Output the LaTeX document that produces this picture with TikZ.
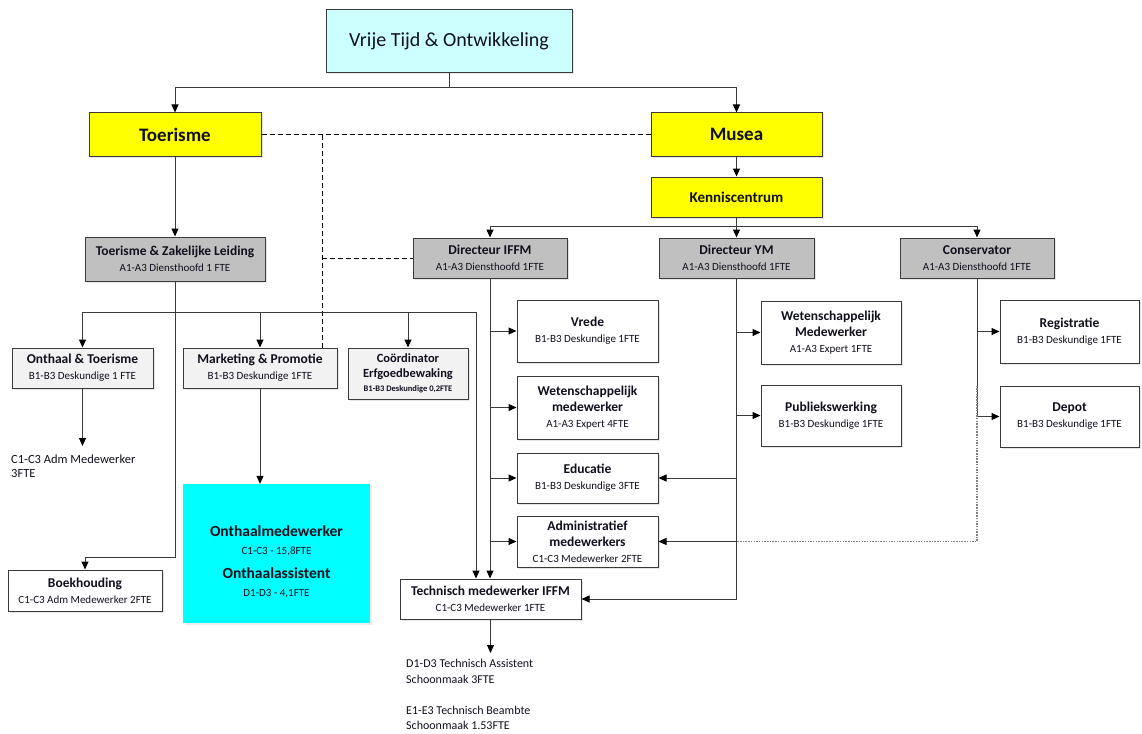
\documentclass[tikz,border=0pt]{standalone}
\usepackage{fontspec}
\setmainfont{Carlito}
\usetikzlibrary{arrows.meta,shadows}
\definecolor{topc}{HTML}{CCFFFF}
\definecolor{yel}{HTML}{FFFF00}
\definecolor{grb}{HTML}{C0C0C0}
\definecolor{lgb}{HTML}{F2F2F2}
\definecolor{cyb}{HTML}{00FFFF}
\definecolor{ln}{HTML}{3A3A3A}
\definecolor{txt}{HTML}{10101E}
\tikzset{
 bx/.style={draw=ln, line width=1pt, inner sep=0pt, align=center, text=txt, fill=white,
   font=\fontsize{11}{16}\selectfont,
   drop shadow={shadow xshift=1.5pt, shadow yshift=-1.5pt, opacity=0.2}},
 conn/.style={draw=ln, line width=1pt, -{Triangle[length=8pt,width=7pt,color=black]}},
 plainln/.style={draw=ln, line width=1pt},
 dsh/.style={draw=black, line width=1pt, dash pattern=on 5pt off 3pt},
 dotln/.style={draw=gray, line width=1.4pt, dash pattern=on 1.5pt off 1.2pt},
 freetxt/.style={anchor=north west, inner sep=0pt, align=left, text=txt},
}
\newcommand\tb[1]{{\bfseries\fontsize{13.5}{16}\selectfont #1}}
\begin{document}
\begin{tikzpicture}[x=1pt,y=-1pt]
\useasboundingbox (0,0) rectangle (1142,733);
% top levels
\node[bx, fill=topc, minimum width=246pt, minimum height=63pt, font=\fontsize{20}{24}\selectfont] (top) at (449,41.5) {Vrije Tijd \& Ontwikkeling};
\node[bx, fill=yel, minimum width=172pt, minimum height=43pt, font=\bfseries\fontsize{19}{22}\selectfont] (toer) at (175,134.5) {Toerisme};
\node[bx, fill=yel, minimum width=171pt, minimum height=43pt, font=\bfseries\fontsize{19}{22}\selectfont] (musea) at (736.5,134.5) {Musea};
\node[bx, fill=yel, minimum width=171pt, minimum height=40pt, font=\bfseries\fontsize{15}{18}\selectfont] (kc) at (736.5,197) {Kenniscentrum};
% grey heads
\node[bx, fill=grb, minimum width=180pt, minimum height=44pt] (tzl) at (175,259) {\tb{Toerisme \& Zakelijke Leiding}\\A1-A3 Diensthoofd 1 FTE};
\node[bx, fill=grb, minimum width=154pt, minimum height=40pt] (iffm) at (490,258) {\tb{Directeur IFFM}\\A1-A3 Diensthoofd 1FTE};
\node[bx, fill=grb, minimum width=155pt, minimum height=40pt] (ym) at (736.5,258) {\tb{Directeur YM}\\A1-A3 Diensthoofd 1FTE};
\node[bx, fill=grb, minimum width=154pt, minimum height=40pt] (cons) at (977,258) {\tb{Conservator}\\A1-A3 Diensthoofd 1FTE};
% toerisme branch
\node[bx, fill=lgb, minimum width=141pt, minimum height=40pt] (onth) at (82.5,368) {\tb{Onthaal \& Toerisme}\\B1-B3 Deskundige 1 FTE};
\node[bx, fill=lgb, minimum width=154pt, minimum height=40pt] (mark) at (260,368) {\tb{Marketing \& Promotie}\\B1-B3 Deskundige 1FTE};
\node[bx, fill=lgb, minimum width=120pt, minimum height=51pt, font=\bfseries\fontsize{12.5}{14.5}\selectfont] (coord) at (408,373.5) {Co\"ordinator\\Erfgoedbewaking\\{\fontsize{8.5}{13}\selectfont B1-B3 Deskundige 0,2FTE}};
\node[freetxt, font=\fontsize{12.5}{14}\selectfont] (admtxt) at (11,455) {C1-C3 Adm Medewerker\\3FTE};
\node[fill=cyb, inner sep=0pt, minimum width=187pt, minimum height=139pt, drop shadow={shadow xshift=1.5pt, shadow yshift=-1.5pt, opacity=0.15}] (cyan) at (276.5,553.5) {};
\node[inner sep=0pt, align=center, text=txt, font=\fontsize{11}{18}\selectfont] (cyantxt) at ([yshift=-8pt]cyan.center) {{\bfseries\fontsize{15.5}{18}\selectfont Onthaalmedewerker}\\C1-C3 - 15,8FTE\\[6pt]{\bfseries\fontsize{15.5}{18}\selectfont Onthaalassistent}\\D1-D3 - 4,1FTE};
\node[bx, minimum width=154pt, minimum height=41pt] (boek) at (85,590.5) {\tb{Boekhouding}\\C1-C3 Adm Medewerker 2FTE};
% IFFM branch
\node[bx, minimum width=141pt, minimum height=62pt] (vrede) at (587.5,331) {\tb{Vrede}\\B1-B3 Deskundige 1FTE};
\node[bx, minimum width=141pt, minimum height=63pt] (wet1) at (587.5,407.5) {\tb{Wetenschappelijk}\\\tb{medewerker}\\A1-A3 Expert 4FTE};
\node[bx, minimum width=141pt, minimum height=50pt] (edu) at (587.5,478) {\tb{Educatie}\\B1-B3 Deskundige 3FTE};
\node[bx, minimum width=141pt, minimum height=51pt] (adm) at (587.5,541.5) {\tb{Administratief}\\\tb{medewerkers}\\C1-C3 Medewerker 2FTE};
\node[bx, minimum width=181pt, minimum height=40pt] (tech) at (490.5,599) {\tb{Technisch medewerker IFFM}\\C1-C3 Medewerker 1FTE};
\node[freetxt, font=\fontsize{12}{15.5}\selectfont] (techtxt) at (406,659) {D1-D3 Technisch Assistent\\Schoonmaak 3FTE\\[15.5pt]E1-E3 Technisch Beambte\\Schoonmaak 1.53FTE};
% YM branch
\node[bx, minimum width=140pt, minimum height=63pt] (wet2) at (831,332.5) {\tb{Wetenschappelijk}\\\tb{Medewerker}\\A1-A3 Expert 1FTE};
\node[bx, minimum width=140pt, minimum height=61pt] (publ) at (831,415.5) {\tb{Publiekswerking}\\B1-B3 Deskundige 1FTE};
% Conservator branch
\node[bx, minimum width=139pt, minimum height=63pt] (reg) at (1069.5,331.5) {\tb{Registratie}\\B1-B3 Deskundige 1FTE};
\node[bx, minimum width=139pt, minimum height=61pt] (depot) at (1069.5,416.5) {\tb{Depot}\\B1-B3 Deskundige 1FTE};
% coordinates
\coordinate (dj) at (322,134.5);
\coordinate (j1) at (175,312);
\coordinate (j2) at (476,312);
\coordinate (admtip) at (82.5,446);
\coordinate (techtip) at (490.5,653);
% connectors top
\draw[conn] (top.south) -- ++(0,14) -| (toer.north);
\draw[conn] (top.south) -- ++(0,14) -| (musea.north);
\draw[dsh] (toer.east) -- (musea.west);
\draw[dsh] (dj) -- (dj |- mark.north);
\draw[dsh] (dj |- iffm.west) -- (iffm.west);
\draw[conn] (musea.south) -- (kc.north);
\draw[conn] (kc.south) -- ++(0,9) -| (iffm.north);
\draw[conn] (kc.south) -- ++(0,9) -| (ym.north);
\draw[conn] (kc.south) -- ++(0,9) -| (cons.north);
% toerisme
\draw[conn] (toer.south) -- (tzl.north);
\draw[conn] (tzl.south) -- ++(0,276) -| (boek.north);
\draw[conn] (j1) -| (onth.north);
\draw[conn] (j1) -| (mark.north);
\draw[conn] (j1) -| (coord.north);
\draw[conn] (j1) -- (j2) -- (j2 |- tech.north);
\draw[conn] (onth.south) -- (admtip);
\draw[conn] (mark.south) -- (mark.south |- cyan.north);
% IFFM
\draw[conn] (iffm.south) -- (iffm.south |- tech.north);
\draw[conn] (iffm.south |- vrede.west) -- (vrede.west);
\draw[conn] (iffm.south |- wet1.west) -- (wet1.west);
\draw[conn] (iffm.south |- edu.west) -- (edu.west);
\draw[conn] (iffm.south |- adm.west) -- (adm.west);
\draw[conn] (tech.south) -- (techtip);
% YM
\draw[conn] (ym.south) |- (tech.east);
\draw[conn] (ym.south |- wet2.west) -- (wet2.west);
\draw[conn] (ym.south |- publ.west) -- (publ.west);
\draw[conn] (ym.south |- edu.east) -- (edu.east);
\draw[conn] (ym.south |- adm.east) -- (adm.east);
% Conservator
\draw[plainln] (cons.south) -- (cons.south |- depot.west);
\draw[conn] (cons.south |- reg.west) -- (reg.west);
\draw[conn] (cons.south |- depot.west) -- (depot.west);
\draw[dotln] (cons.south |- depot.north) -- (cons.south |- adm.east) -- (ym.south |- adm.east);
\end{tikzpicture}
\end{document}
